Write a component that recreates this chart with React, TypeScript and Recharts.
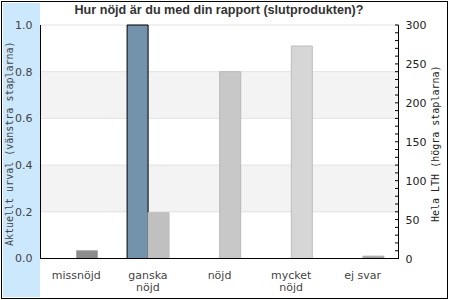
import React from "react";
import { BarChart, Bar, Cell, XAxis, YAxis, CartesianGrid } from "recharts";

const categories = ["missnöjd", "ganska nöjd", "nöjd", "mycket nöjd", "ej svar"];
const categoryLines = [["missnöjd"], ["ganska", "nöjd"], ["nöjd"], ["mycket", "nöjd"], ["ej svar"]];
const currentValues = [0, 1.0, 0, 0, 0];
const lthValues = [10, 59, 240, 273, 3];
const lthFills = ["#8c8c8c", "#c0c0c0", "#c8c8c8", "#d6d6d6", "#a0a0a0"];
const lthStrokes = ["#a8a8a8", "#c0c0c0", "#b8b8b8", "#bcbcbc", "#b0b0b0"];
const leftTicks = [0, 0.2, 0.4, 0.6, 0.8, 1.0];
const rightTicks = [
  0, 10, 20, 30, 40, 50, 60, 70, 80, 90, 100, 110, 120, 130, 140, 150,
  160, 170, 180, 190, 200, 210, 220, 230, 240, 250, 260, 270, 280, 290, 300,
];

const data = categories.map((name, i) => ({
  name,
  current: currentValues[i],
  lth: lthValues[i],
}));

const mono = "'DejaVu Sans Mono', monospace";
const sans = "'DejaVu Sans', sans-serif";
const frameLine = { stroke: "#000", strokeOpacity: 1, shapeRendering: "crispEdges" };

function CategoryTick(props: any) {
  const { x, y, index } = props;
  const lines = categoryLines[index] || [String(props.payload.value)];
  return (
    <text x={x} y={y} textAnchor="middle" fill="#444" fontSize={11} fontFamily={sans}>
      {lines.map((l, i) => (
        <tspan key={i} x={x} dy={i === 0 ? 20 : 12}>
          {l}
        </tspan>
      ))}
    </text>
  );
}

// right axis: short inward tick every 10, label every 50
function RightTick(props: any) {
  const { x, y, payload } = props;
  const v = Number(payload.value);
  const ax = x - 7;
  return (
    <g>
      <path d={`M${ax - 3.5},${y}H${ax}`} stroke="#000" strokeWidth={1} fill="none" />
      {v % 50 === 0 && (
        <text x={x} y={y} dy={4} textAnchor="start" fill="#222" fontSize={11} fontFamily={sans}>
          {v}
        </text>
      )}
    </g>
  );
}

function LeftTitle(props: any) {
  const vb = props.viewBox || { x: 0, y: 25, width: 40, height: 233 };
  const cx = vb.x + 9;
  const cy = vb.y + vb.height / 2 + 2;
  return (
    <text
      x={cx}
      y={cy}
      transform={`rotate(-90, ${cx}, ${cy})`}
      textAnchor="middle"
      dominantBaseline="central"
      fill="#444"
      fontSize={10}
      fontFamily={mono}
    >
      Aktuellt urval (vänstra staplarna)
    </text>
  );
}

function RightTitle(props: any) {
  const vb = props.viewBox || { x: 398, y: 25, width: 52, height: 233 };
  const cx = vb.x + 37;
  const cy = vb.y + vb.height / 2 + 2;
  return (
    <text
      x={cx}
      y={cy}
      transform={`rotate(-90, ${cx}, ${cy})`}
      textAnchor="middle"
      dominantBaseline="central"
      fill="#222"
      fontSize={10}
      fontFamily={mono}
    >
      Hela LTH (högra staplarna)
    </text>
  );
}

export default function App() {
  return (
    <div style={{ position: "absolute", left: 0, top: 0, width: 450, height: 300, background: "#fff" }}>
      {/* outer frame and blue band */}
      <div
        style={{
          position: "absolute",
          left: 1,
          top: 1,
          width: 447,
          height: 298,
          border: "1px solid #000",
          boxSizing: "border-box",
        }}
      />
      <div style={{ position: "absolute", left: 3, top: 3, width: 37, height: 294, background: "#cce8fc" }} />
      <div style={{ position: "absolute", left: 0, top: 0 }}>
        <BarChart
          width={450}
          height={300}
          data={data}
          margin={{ top: 25, right: 0, bottom: 0, left: 0.5 }}
          barGap={0}
          barSize={21}
        >
          <CartesianGrid
            yAxisId="left"
            vertical={false}
            stroke="#e2e2e2"
            horizontalFill={["rgba(0,0,0,0)", "rgba(0,0,0,0.047)"]}
            fillOpacity={1}
          />
          <XAxis
            dataKey="name"
            height={41.5}
            stroke="#000"
            tickLine={false}
            tickSize={0}
            tickMargin={0}
            interval={0}
            axisLine={frameLine}
            tick={CategoryTick}
          />
          <XAxis
            xAxisId="top"
            dataKey="name"
            orientation="top"
            height={0}
            stroke="#000"
            tick={false}
            tickLine={false}
            axisLine={frameLine}
          />
          <YAxis
            yAxisId="left"
            width={40}
            domain={[0, 1]}
            ticks={leftTicks}
            stroke="#000"
            tickFormatter={(v: number) => v.toFixed(1)}
            tickLine={false}
            tickSize={0}
            tickMargin={8}
            axisLine={frameLine}
            tick={{ fill: "#444", stroke: "none", fontSize: 11, fontFamily: sans }}
            label={<LeftTitle />}
          />
          <YAxis
            yAxisId="right"
            orientation="right"
            width={51.5}
            domain={[0, 300]}
            ticks={rightTicks}
            interval={0}
            stroke="#000"
            tickSize={0}
            tickMargin={7}
            tickLine={false}
            axisLine={frameLine}
            tick={RightTick}
            label={<RightTitle />}
          />
          <Bar yAxisId="left" dataKey="current" fill="#7393ad" stroke="#000" strokeWidth={1} isAnimationActive={false} />
          <Bar yAxisId="right" dataKey="lth" isAnimationActive={false}>
            {data.map((_, i) => (
              <Cell key={i} fill={lthFills[i]} stroke={lthStrokes[i]} />
            ))}
          </Bar>
        </BarChart>
      </div>
      <div
        style={{
          position: "absolute",
          left: 40,
          top: 3,
          width: 358,
          textAlign: "center",
          fontFamily: "'Liberation Sans', Arial, sans-serif",
          fontWeight: "bold",
          fontSize: 12.6,
          color: "#333",
        }}
      >
        Hur nöjd är du med din rapport (slutprodukten)?
      </div>
    </div>
  );
}
